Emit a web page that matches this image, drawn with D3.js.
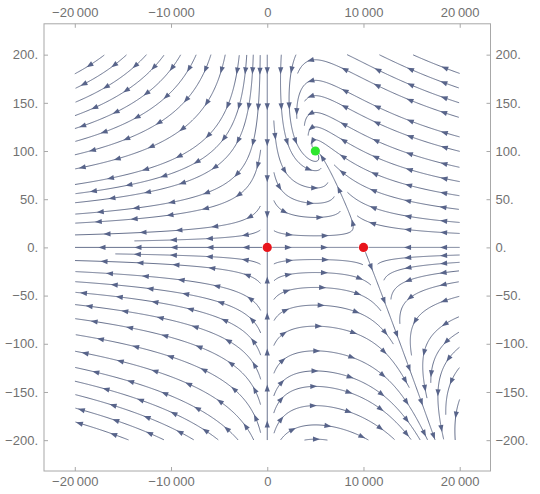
<!DOCTYPE html>
<html>
<head>
<meta charset="utf-8">
<script src="https://cdn.jsdelivr.net/npm/d3@7"></script>
<style>
body { margin: 0; background: #fff; }
svg { display: block; }
.tick text { font-family: "Liberation Sans", Arial, sans-serif; font-size: 13px; fill: #717171; }
</style>
</head>
<body>
<svg></svg>
<script>
// equilibrium points
var saddles = [[0, 0], [10000, 0]];
var centers = [[5000, 100]];

// ticks
var xTicks = [-20000, -10000, 0, 10000, 20000];
var xTickLabels = ["\u221220\u2009000", "\u221210\u2009000", "0", "10\u2009000", "20\u2009000"];
var yTicks = [200, 150, 100, 50, 0, -50, -100, -150, -200];
var yTickLabels = ["200.", "150.", "100.", "50.", "0.", "\u221250.", "\u2212100.", "\u2212150.", "\u2212200."];

// field: x' = r x (1 - x/K) - a x y ,  y' = b x y - m y
var growth = 1, capacity = 10000, attack = 1 / 200, conversion = 0.25 / 5000, death = 0.25;

// streams started by hand: separatrix out of the right saddle, then the invariant axes
var axisSeeds = [[10320, -8], [-10000, 0], [5000, 0], [15000, 0], [0, 120], [0, -120]];

var plotX = [-20000, 20000], plotY = [-200, 200];

var width = 540, height = 494;

var svg = d3.select("svg")
    .attr("width", width)
    .attr("height", height);

var x = d3.scaleLinear().domain([-23200, 23200]).range([44, 490.5]);
var y = d3.scaleLinear().domain([232, -232]).range([23.8, 471]);

// frame + ticks
svg.append("rect")
    .attr("x", x.range()[0]).attr("y", y.range()[0])
    .attr("width", x.range()[1] - x.range()[0])
    .attr("height", y.range()[1] - y.range()[0])
    .attr("fill", "none").attr("stroke", "#a8a8a8");

function styleAxis(g) {
    g.select(".domain").remove();
    g.selectAll(".tick line").attr("stroke", "#a8a8a8");
}

svg.append("g").attr("transform", "translate(0," + y.range()[0] + ")")
    .call(d3.axisTop(x).tickValues(xTicks).tickSize(-4).tickPadding(7)
        .tickFormat(function(d, i) { return xTickLabels[i]; }))
    .call(styleAxis);
svg.append("g").attr("transform", "translate(0," + y.range()[1] + ")")
    .call(d3.axisBottom(x).tickValues(xTicks).tickSize(-4).tickPadding(6)
        .tickFormat(function(d, i) { return xTickLabels[i]; }))
    .call(styleAxis);
svg.append("g").attr("transform", "translate(" + x.range()[0] + ",0)")
    .call(d3.axisLeft(y).tickValues(yTicks).tickSize(-4).tickPadding(6)
        .tickFormat(function(d, i) { return yTickLabels[i]; }))
    .call(styleAxis);
svg.append("g").attr("transform", "translate(" + x.range()[1] + ",0)")
    .call(d3.axisRight(y).tickValues(yTicks).tickSize(-4).tickPadding(5)
        .tickFormat(function(d, i) { return yTickLabels[i]; }))
    .call(styleAxis);

// ---- streamlines (evenly spaced, traced in pixel space) ----
var kx = x(1) - x(0), ky = y(0) - y(1);
var x0 = x(plotX[0]), x1 = x(plotX[1]), y0 = y(plotY[1]), y1 = y(plotY[0]);
var dsep = 14, dtest = 6.5, h = 1, minLen = 14;
var crit = saddles.concat(centers).map(function(p) { return [x(p[0]), y(p[1])]; });

function field(u, v) {
    return [growth * u * (1 - u / capacity) - attack * u * v, conversion * u * v - death * v];
}
function dir(px, py) {
    var f = field(x.invert(px), y.invert(py));
    var vx = f[0] * kx, vy = -f[1] * ky;
    var n = Math.hypot(vx, vy);
    if (!(n > 1e-12)) return null;
    return [vx / n, vy / n];
}
function step(px, py, s) {
    var a = dir(px, py); if (!a) return null;
    var b = dir(px + s * a[0] * h / 2, py + s * a[1] * h / 2); if (!b) return null;
    var c = dir(px + s * b[0] * h / 2, py + s * b[1] * h / 2); if (!c) return null;
    var d = dir(px + s * c[0] * h, py + s * c[1] * h); if (!d) return null;
    var vx = (a[0] + 2 * b[0] + 2 * c[0] + d[0]) / 6, vy = (a[1] + 2 * b[1] + 2 * c[1] + d[1]) / 6;
    var n = Math.hypot(vx, vy);
    return [s * vx / n, s * vy / n];
}

var cols = Math.ceil((x1 - x0) / dsep) + 1, rows = Math.ceil((y1 - y0) / dsep) + 1;
var grid = [];
for (var i = 0; i < cols * rows; i++) grid.push([]);
function cellOf(px, py) {
    return [Math.floor((px - x0) / dsep), Math.floor((py - y0) / dsep)];
}
function addPoint(px, py) {
    var c = cellOf(px, py);
    if (c[0] < 0 || c[1] < 0 || c[0] >= cols || c[1] >= rows) return;
    grid[c[1] * cols + c[0]].push([px, py]);
}
function tooClose(px, py, d) {
    var c = cellOf(px, py);
    for (var j = c[1] - 1; j <= c[1] + 1; j++) {
        for (var i = c[0] - 1; i <= c[0] + 1; i++) {
            if (i < 0 || j < 0 || i >= cols || j >= rows) continue;
            var cell = grid[j * cols + i];
            for (var k = 0; k < cell.length; k++) {
                if (Math.hypot(cell[k][0] - px, cell[k][1] - py) < d) return true;
            }
        }
    }
    return false;
}
function outside(px, py) { return px < x0 || px > x1 || py < y0 || py > y1; }
function nearCrit(px, py, r) {
    return crit.some(function(c) { return Math.hypot(c[0] - px, c[1] - py) < r; });
}

function trace(sx, sy, s) {
    var pts = [], px = sx, py = sy, prev = null;
    for (var n = 0; n < 2500; n++) {
        var d = step(px, py, s);
        if (!d) break;
        if (prev && d[0] * prev[0] + d[1] * prev[1] < 0.5) break;
        var nx = px + d[0] * h, ny = py + d[1] * h;
        if (outside(nx, ny) || nearCrit(nx, ny, 4.5)) break;
        if (!nearCrit(nx, ny, 12) && tooClose(nx, ny, dtest)) break;
        pts.push([nx, ny]);
        px = nx; py = ny; prev = d;
    }
    return pts;
}

var lines = [];
function streamFrom(sx, sy) {
    if (outside(sx, sy) || nearCrit(sx, sy, 4.5) || tooClose(sx, sy, dsep * 0.98)) return null;
    var back = trace(sx, sy, -1).reverse(), fwd = trace(sx, sy, 1);
    var pts = back.concat([[sx, sy]], fwd);
    if ((pts.length - 1) * h < minLen) return null;
    pts.forEach(function(p) { addPoint(p[0], p[1]); });
    lines.push(pts);
    return pts;
}

var queue = [];
axisSeeds.forEach(function(p) {
    var l = streamFrom(x(p[0]), y(p[1]));
    if (l) queue.push(l);
});
function grow() {
    while (queue.length) {
        var l = queue.shift();
        for (var k = 1; k < l.length - 1; k += 2) {
            var tx = l[k + 1][0] - l[k - 1][0], ty = l[k + 1][1] - l[k - 1][1];
            var n = Math.hypot(tx, ty) || 1;
            [-1, 1].forEach(function(sg) {
                var nl = streamFrom(l[k][0] - sg * ty / n * dsep, l[k][1] + sg * tx / n * dsep);
                if (nl) queue.push(nl);
            });
        }
    }
}
grow();
for (var gy = y0 + dsep / 2; gy < y1; gy += dsep / 2) {
    for (var gx = x0 + dsep / 2; gx < x1; gx += dsep / 2) {
        var l = streamFrom(gx, gy);
        if (l) { queue.push(l); grow(); }
    }
}

var streamColor = "#67718d";

svg.append("g")
    .selectAll("path")
    .data(lines)
    .enter()
    .append("path")
        .attr("fill", "none")
        .attr("stroke", streamColor)
        .attr("stroke-width", 1)
        .attr("d", d3.line()
            .x(function(p) { return p[0]; })
            .y(function(p) { return p[1]; }));

// arrowheads along each stream
var arrows = [];
lines.forEach(function(l) {
    var len = (l.length - 1) * h;
    var spacing = 36, first = len < spacing ? len / 2 : 16;
    for (var s = first; s < len - 3; s += spacing) {
        var k = Math.round(s / h);
        var a = l[Math.max(k - 2, 0)], b = l[Math.min(k + 2, l.length - 1)];
        var tx = b[0] - a[0], ty = b[1] - a[1], n = Math.hypot(tx, ty) || 1;
        arrows.push({ p: l[k], ux: tx / n, uy: ty / n });
    }
});
svg.append("g")
    .selectAll("path")
    .data(arrows)
    .enter()
    .append("path")
        .attr("fill", "#58648a")
        .attr("d", function(a) {
            var px = a.p[0], py = a.p[1], ux = a.ux, uy = a.uy;
            return "M" + (px + ux * 3.5) + "," + (py + uy * 3.5) +
                "L" + (px - ux * 3.5 - uy * 2.6) + "," + (py - uy * 3.5 + ux * 2.6) +
                "L" + (px - ux * 3.5 + uy * 2.6) + "," + (py - uy * 3.5 - ux * 2.6) + "Z";
        });

// equilibria
svg.append("g")
    .selectAll("circle")
    .data(saddles)
    .enter()
    .append("circle")
        .attr("cx", function(d) { return x(d[0]); })
        .attr("cy", function(d) { return y(d[1]); })
        .attr("r", 4.6)
        .attr("fill", "#e8141b");
svg.append("g")
    .selectAll("circle")
    .data(centers)
    .enter()
    .append("circle")
        .attr("cx", function(d) { return x(d[0]); })
        .attr("cy", function(d) { return y(d[1]); })
        .attr("r", 4.6)
        .attr("fill", "#2ee62e");
</script>
</body>
</html>
